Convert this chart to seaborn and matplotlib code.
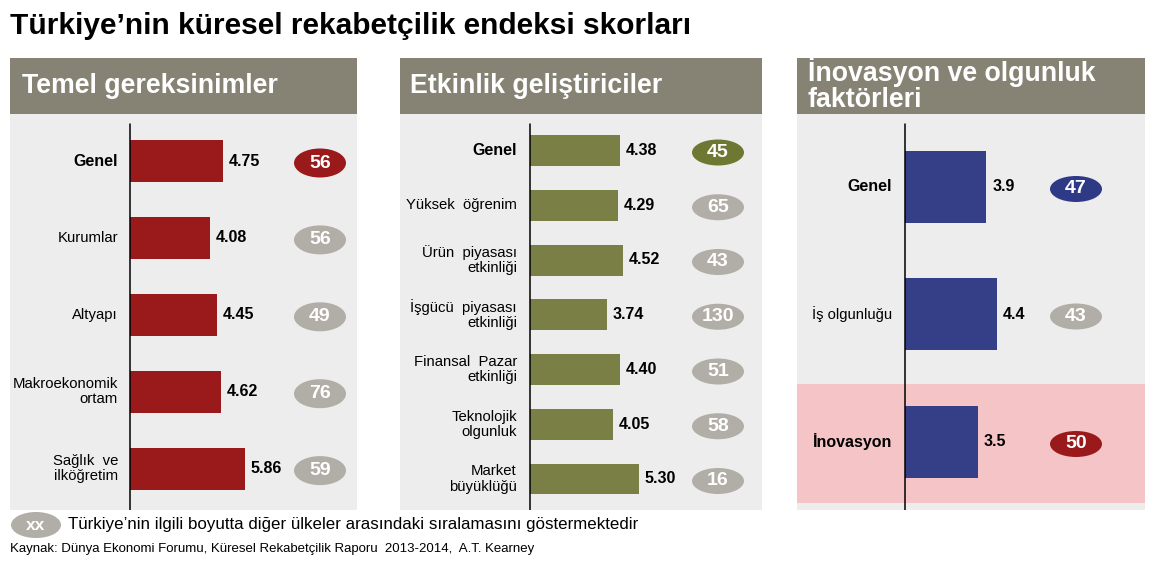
import matplotlib
matplotlib.use("Agg")
import matplotlib.pyplot as plt
import seaborn as sns
import pandas as pd
from matplotlib.patches import Ellipse, Rectangle

# ---------------- data ----------------
title = "Türkiye’nin küresel rekabetçilik endeksi skorları"

p1_title = "Temel gereksinimler"
p1_cats = ["Genel", "Kurumlar", "Altyapı", "Makroekonomik\nortam", "Sağlık  ve\nilköğretim"]
p1_vals = [4.75, 4.08, 4.45, 4.62, 5.86]
p1_ranks = [56, 56, 49, 76, 59]

p2_title = "Etkinlik geliştiriciler"
p2_cats = ["Genel", "Yüksek  öğrenim", "Ürün  piyasası\netkinliği",
           "İşgücü  piyasası\netkinliği", "Finansal  Pazar\netkinliği",
           "Teknolojik\nolgunluk", "Market\nbüyüklüğü"]
p2_vals = [4.38, 4.29, 4.52, 3.74, 4.40, 4.05, 5.30]
p2_ranks = [45, 65, 43, 130, 51, 58, 16]

p3_title_lines = ["İnovasyon ve olgunluk", "faktörleri"]
p3_cats = ["Genel", "İş olgunluğu", "İnovasyon"]
p3_vals = [3.9, 4.4, 3.5]
p3_ranks = [47, 43, 50]

legend_text = "Türkiye’nin ilgili boyutta diğer ülkeler arasındaki sıralamasını göstermektedir"
source_text = "Kaynak: Dünya Ekonomi Forumu, Küresel Rekabetçilik Raporu  2013-2014,  A.T. Kearney"

# ---------------- style ----------------
sns.set_style("white")
plt.rcParams["font.family"] = ["Liberation Sans", "DejaVu Sans"]

HEAD = "#868274"
BODY = "#eeeded"
RED = "#9a1a1c"
GREEN = "#7a7f45"
GREEN_DARK = "#6e7832"
BLUE = "#343f87"
BLUE_DARK = "#2f3a86"
GREY = "#b0aea7"
PINK = "#f5c4c6"

W, H = 1154, 566
fig = plt.figure(figsize=(W / 100, H / 100), dpi=100)
fig.patch.set_facecolor("white")


def fig_rect(x0, y0, x1, y1, color):
    fig.patches.append(Rectangle((x0 / W, 1 - y1 / H), (x1 - x0) / W, (y1 - y0) / H,
                                 transform=fig.transFigure, facecolor=color,
                                 edgecolor="none", zorder=0))


def panel(x0, x1, axis_px, scale, c0, step, bar_h, ell_cx, ell_w, ell_h, lab_px,
          cats, vals, ranks, color, rank_colors, bold, fmt, pink=None):
    top, bot = 114, 510
    ax = fig.add_axes([x0 / W, 1 - bot / H, (x1 - x0) / W, (bot - top) / H])
    ax.set_facecolor(BODY)
    df = pd.DataFrame({"cat": cats, "val": vals})
    sns.barplot(data=df, x="val", y="cat", orient="h", order=cats, color=color,
                saturation=1, width=bar_h / step, linewidth=0, ax=ax, zorder=2)
    xl = -(axis_px - x0) / scale
    xr = (x1 - axis_px) / scale
    ax.set_xlim(xl, xr)

    def py(p):
        return (p - c0) / step

    ax.set_ylim(py(bot), py(top))
    for s in ax.spines.values():
        s.set_visible(False)
    ax.set_xticks([])
    ax.set_yticks([])
    ax.set_xlabel("")
    ax.set_ylabel("")
    if pink is not None:
        ax.axhspan(py(pink[0]), py(pink[1]), color=PINK, zorder=0.5, lw=0)
    ax.plot([0, 0], [py(124), py(bot)], color="black", lw=1.1, zorder=3)
    for i, (c, v, r) in enumerate(zip(cats, vals, ranks)):
        ax.text((lab_px - axis_px) / scale, i, c, ha="right", va="center",
                fontsize=11.5 if bold[i] else 10.7, fontweight="bold" if bold[i] else "normal",
                linespacing=1.1, color="black")
        ax.text(v + 6 / scale, i, fmt.format(v), ha="left", va="center",
                fontsize=11.5, fontweight="bold", color="black")
        ex = (ell_cx - axis_px) / scale
        ax.add_patch(Ellipse((ex, i + 2 / step), ell_w / scale, ell_h / step,
                             facecolor=rank_colors[i], edgecolor="none", zorder=3))
        ax.text(ex, i + 2 / step, str(r), ha="center", va="center", fontsize=14,
                fontweight="bold", color="white", zorder=4)
    return ax


# headers
fig_rect(10, 58, 357, 114, HEAD)
fig_rect(400, 58, 762, 114, HEAD)
fig_rect(797, 58, 1145, 114, HEAD)
HFS = 19.3
fig.text(22 / W, 1 - 86 / H, p1_title, color="white", fontsize=HFS, fontweight="bold", va="center")
fig.text(410 / W, 1 - 86 / H, p2_title, color="white", fontsize=HFS, fontweight="bold", va="center")
fig.text(808 / W, 1 - 72 / H, p3_title_lines[0], color="white", fontsize=HFS, fontweight="bold", va="center")
fig.text(808 / W, 1 - 100 / H, p3_title_lines[1], color="white", fontsize=HFS, fontweight="bold", va="center")

panel(10, 357, 130, 19.6, 161, 76.9, 42, 320, 52, 29, 118,
      p1_cats, p1_vals, p1_ranks, RED, [RED, GREY, GREY, GREY, GREY],
      [True, False, False, False, False], "{:.2f}")
panel(400, 762, 530, 20.5, 150.5, 54.75, 31, 718, 52, 26, 517,
      p2_cats, p2_vals, p2_ranks, GREEN, [GREEN_DARK] + [GREY] * 6,
      [True] + [False] * 6, "{:.2f}")
panel(797, 1145, 905, 20.8, 187, 127.5, 72, 1076, 52, 26, 892,
      p3_cats, p3_vals, p3_ranks, BLUE, [BLUE_DARK, GREY, RED],
      [True, False, True], "{:.1f}", pink=(384, 503))

# title
fig.text(10 / W, 1 - 26 / H, title, fontsize=21.5, fontweight="bold", va="center", color="black")

# legend + source
fig.patches.append(Ellipse((36 / W, 1 - 525 / H), 50 / W, 26 / H, transform=fig.transFigure,
                           facecolor=GREY, edgecolor="none"))
fig.text(36 / W, 1 - 525 / H, "xx", ha="center", va="center", color="white",
         fontsize=12.5, fontweight="bold")
fig.text(68 / W, 1 - 524 / H, legend_text, fontsize=12.2, va="center", color="black")
fig.text(10 / W, 1 - 549 / H, source_text, fontsize=9.5, va="center", color="black")

fig.savefig("out.png", dpi=100)
